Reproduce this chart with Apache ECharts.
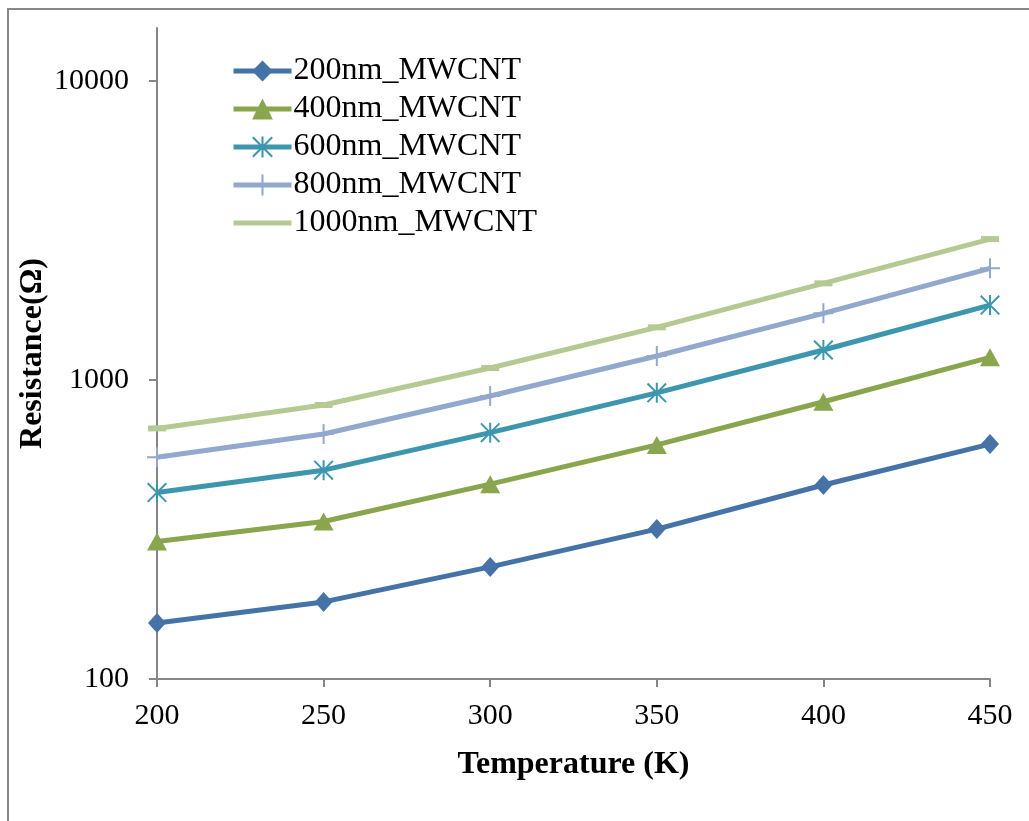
<!DOCTYPE html>
<html>
<head>
<meta charset="utf-8">
<title>Resistance vs Temperature</title>
<script src="https://cdn.jsdelivr.net/npm/echarts@6/dist/echarts.min.js"></script>
<style>
  html, body { margin: 0; padding: 0; background: #fff; }
  #chart { width: 1029px; height: 821px; }
</style>
</head>
<body>
<div id="chart"></div>
<script>
// 数据
const temperatures = [200, 250, 300, 350, 400, 450];
const seriesNames = ['200nm_MWCNT', '400nm_MWCNT', '600nm_MWCNT', '800nm_MWCNT', '1000nm_MWCNT'];
const r200 = [154, 181, 237, 317, 445, 610];
const r400 = [288, 336, 448, 606, 845, 1189];
const r600 = [420, 499, 666, 905, 1258, 1778];
const r800 = [551, 659, 883, 1201, 1668, 2359];
const r1000 = [688, 824, 1095, 1498, 2101, 2955];
const yTicks = [100, 1000, 10000];

const FONT = 'Liberation Serif';

// 标记形状
const starPath = 'path://M9,0H11V20H9Z M0,1.4L1.4,0L20,18.6L18.6,20Z M18.6,0L20,1.4L1.4,20L0,18.6Z';
const plusPath = 'path://M9,0H11V20H9Z M0,9H20V11H0Z';

const seriesDefs = [
  { data: r200, color: '#4572A7', symbol: 'diamond', size: [18, 20] },
  { data: r400, color: '#89A54E', symbol: 'triangle', size: [20, 18] },
  { data: r600, color: '#3D96AE', symbol: starPath, size: 20 },
  { data: r800, color: '#92A8CD', symbol: plusPath, size: 20 },
  { data: r1000, color: '#B5CA92', symbol: 'rect', size: [18, 6] }
];

const chart = echarts.init(document.getElementById('chart'), null, { renderer: 'canvas' });

// 图例项：最后一项只显示线
const legendData = seriesNames.map((name, i) => (
  i === 4 ? { name, itemStyle: { color: 'rgba(0,0,0,0)', borderWidth: 0 } } : { name }
));

const option = {
  backgroundColor: '#fff',
  animation: false,
  textStyle: { fontFamily: FONT },
  graphic: [{
    type: 'rect',
    shape: { x: 8, y: 9, width: 1100, height: 900 },
    style: { fill: 'none', stroke: '#888', lineWidth: 2 }
  }],
  grid: { left: 157, right: 39, top: 28, bottom: 142, containLabel: false },
  legend: {
    orient: 'vertical',
    left: 226,
    top: 50,
    itemWidth: 58,
    itemHeight: 26,
    itemGap: 6,
    data: legendData,
    lineStyle: { width: 5 },
    textStyle: { fontFamily: FONT, fontSize: 32, color: '#000', lineHeight: 32, padding: [0, 0, 0, -3] }
  },
  xAxis: {
    type: 'value',
    min: 200,
    max: 450,
    interval: 50,
    name: 'Temperature (K)',
    nameLocation: 'middle',
    nameGap: 70,
    nameMoveOverlap: false,
    nameTextStyle: { fontFamily: FONT, fontSize: 32, fontWeight: 'bold', color: '#000' },
    axisLine: { lineStyle: { color: '#868686', width: 2 } },
    axisTick: { show: true, inside: false, length: 8, lineStyle: { color: '#868686', width: 2 } },
    axisLabel: { fontFamily: FONT, fontSize: 30, color: '#000', margin: 22 },
    splitLine: { show: false }
  },
  yAxis: {
    type: 'log',
    logBase: 10,
    min: 100,
    max: 15000,
    name: 'Resistance(Ω)',
    nameLocation: 'middle',
    nameGap: 108,
    nameMoveOverlap: false,
    nameTextStyle: { fontFamily: FONT, fontSize: 32, fontWeight: 'bold', color: '#000' },
    axisLine: { show: true, lineStyle: { color: '#868686', width: 2 } },
    axisTick: { show: true, inside: false, length: 8, customValues: yTicks, lineStyle: { color: '#868686', width: 2 } },
    axisLabel: {
      fontFamily: FONT, fontSize: 30, color: '#000', margin: 28, customValues: yTicks,
      formatter: v => String(Math.round(v))
    },
    splitLine: { show: false },
    minorTick: { show: false }
  },
  series: seriesDefs.map((s, i) => ({
    name: seriesNames[i],
    type: 'line',
    data: temperatures.map((t, j) => [t, s.data[j]]),
    symbol: s.symbol,
    symbolSize: s.size,
    showSymbol: true,
    color: s.color,
    lineStyle: { color: s.color, width: 5 },
    itemStyle: { color: s.color },
    z: 10 - i
  }))
};

chart.setOption(option);
</script>
</body>
</html>
